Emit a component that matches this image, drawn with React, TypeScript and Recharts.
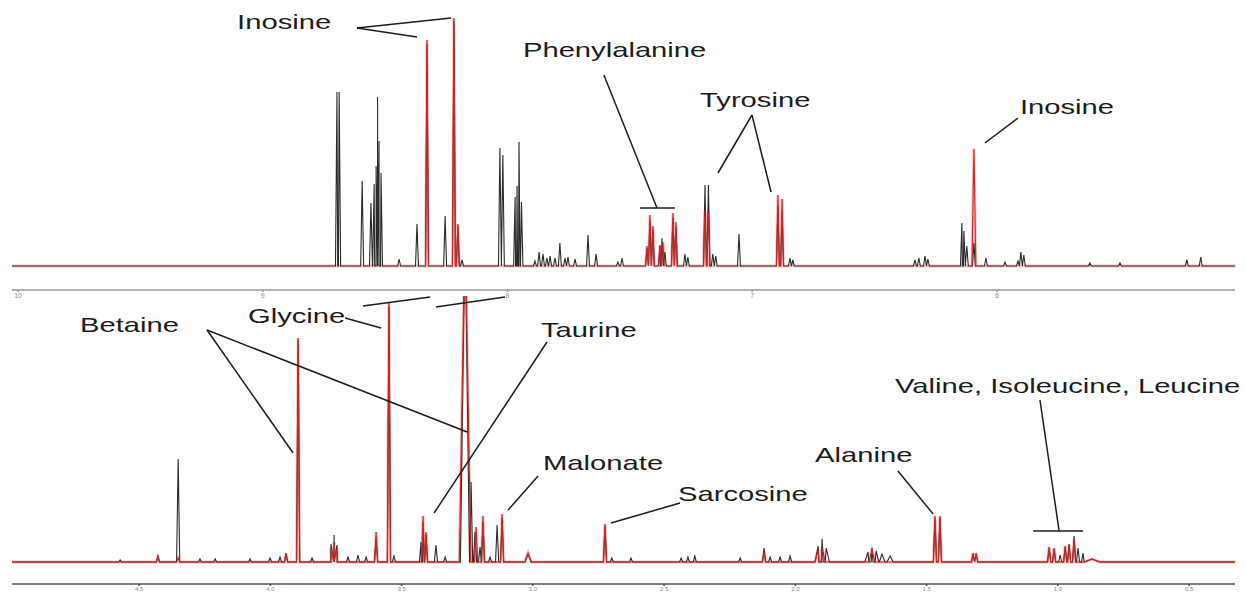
import { LineChart, Line, XAxis, YAxis, ReferenceLine, ReferenceDot } from 'recharts';

// [shift (ppm), height, optional half-width (ppm)]
type Peak = [number, number, number?];
type Note = { text: string; x: number; y: number };
type Leader = [number, number, number, number];

// ---- aromatic region (10 – 5 ppm) ----
const aromaticTicks = [10, 9, 8, 7, 6];

const aromaticSample: Peak[] = [
  [8.697, 174], [8.688, 174], [8.594, 85], [8.558, 63], [8.545, 82], [8.537, 100],
  [8.531, 169], [8.525, 125], [8.517, 93], [8.443, 7], [8.37, 42], [8.329, 222],
  [8.255, 50], [8.219, 245], [8.203, 40], [8.186, 6], [8.031, 118], [8.019, 111],
  [7.969, 69], [7.961, 80], [7.953, 124], [7.943, 64], [7.888, 5], [7.871, 14],
  [7.855, 12], [7.839, 8], [7.826, 10], [7.806, 8], [7.786, 23], [7.765, 8],
  [7.753, 9], [7.724, 7], [7.671, 31], [7.638, 12], [7.549, 4], [7.532, 8],
  [7.43, 18], [7.418, 45], [7.406, 36], [7.377, 21], [7.369, 28], [7.357, 14],
  [7.324, 48], [7.312, 40], [7.275, 12], [7.263, 9], [7.193, 81], [7.179, 81],
  [7.161, 12], [7.149, 10], [7.054, 32], [6.895, 60], [6.878, 55], [6.846, 8],
  [6.834, 6], [6.335, 6], [6.319, 8], [6.294, 10], [6.282, 7], [6.143, 43],
  [6.135, 35], [6.123, 20], [6.094, 23], [6.045, 8], [5.967, 4], [5.914, 5],
  [5.902, 14], [5.89, 11], [5.62, 3], [5.497, 3], [5.224, 6], [5.167, 9],
];

const aromaticReference: Peak[] = [
  [8.329, 226], [8.219, 248], [8.203, 42], [7.43, 20], [7.418, 51], [7.406, 40],
  [7.377, 20], [7.365, 24], [7.324, 53], [7.312, 44], [7.193, 56], [7.179, 54],
  [6.895, 71], [6.878, 67], [6.094, 117, 0.008],
];

const aromaticNotes: Note[] = [
  { text: 'Inosine', x: 9.105, y: 244 },
  { text: 'Phenylalanine', x: 7.937, y: 216 },
  { text: 'Tyrosine', x: 7.213, y: 166 },
  { text: 'Inosine', x: 5.906, y: 159 },
];

const aromaticLeaders: Leader[] = [
  [8.615, 238, 8.37, 229], [8.615, 238, 8.231, 248],
  [7.606, 191, 7.389, 58], [7.459, 58, 7.316, 58],
  [7.001, 151, 7.14, 93], [7.001, 151, 6.923, 74],
  [5.914, 148, 6.049, 123],
];

// ---- aliphatic region (5 – 0.3 ppm) ----
const aliphaticTicks = [4.5, 4.0, 3.5, 3.0, 2.5, 2.0, 1.5, 1.0, 0.5];

const aliphaticSample: Peak[] = [
  [4.572, 2], [4.428, 6], [4.351, 103], [4.268, 3], [4.21, 3], [4.077, 3],
  [4.001, 4], [3.963, 5], [3.94, 9], [3.894, 222], [3.841, 4], [3.769, 18, 0.012],
  [3.757, 27, 0.012], [3.746, 17, 0.012], [3.704, 5], [3.666, 7], [3.635, 5],
  [3.597, 24], [3.548, 255], [3.529, 6], [3.426, 20], [3.418, 40], [3.407, 28],
  [3.369, 17], [3.334, 5], [3.258, 340, 0.018], [3.235, 80], [3.22, 30], [3.201, 15],
  [3.19, 40], [3.163, 5], [3.136, 37], [3.117, 44], [3.018, 8, 0.012], [2.725, 36],
  [2.699, 4], [2.626, 4], [2.435, 4], [2.409, 5], [2.383, 6], [2.21, 4],
  [2.119, 14], [2.096, 5], [2.058, 5], [2.02, 6], [1.913, 16, 0.012],
  [1.898, 23, 0.012], [1.882, 14, 0.012], [1.723, 10, 0.012], [1.708, 14, 0.012],
  [1.692, 11, 0.012], [1.67, 8, 0.012], [1.639, 6, 0.012], [1.468, 44], [1.449, 44],
  [1.323, 8], [1.311, 8], [1.033, 14], [1.014, 13], [0.991, 7], [0.972, 15],
  [0.957, 18], [0.938, 26], [0.923, 14], [0.904, 9], [0.87, 3, 0.03],
];

const aliphaticReference: Peak[] = [
  [4.428, 5], [4.351, 4], [3.94, 8], [3.894, 224], [3.769, 14, 0.012],
  [3.757, 20, 0.012], [3.746, 14, 0.012], [3.597, 30], [3.548, 260], [3.418, 46],
  [3.407, 30], [3.258, 340, 0.022], [3.216, 35], [3.19, 46], [3.117, 48],
  [3.018, 9, 0.012], [2.725, 38], [2.119, 10], [1.913, 12, 0.012], [1.898, 15, 0.012],
  [1.708, 12, 0.012], [1.468, 46], [1.449, 46], [1.323, 9], [1.311, 9],
  [1.033, 15], [1.014, 14], [0.972, 16], [0.957, 17], [0.938, 22], [0.87, 3, 0.03],
];

const aliphaticNotes: Note[] = [
  { text: 'Betaine', x: 4.725, y: 237 },
  { text: 'Glycine', x: 4.085, y: 246 },
  { text: 'Taurine', x: 2.969, y: 232 },
  { text: 'Malonate', x: 2.961, y: 99 },
  { text: 'Sarcosine', x: 2.447, y: 68 },
  { text: 'Alanine', x: 1.925, y: 107 },
  { text: 'Valine, Isoleucine, Leucine', x: 1.62, y: 176 },
];

const aliphaticLeaders: Leader[] = [
  [4.241, 232, 3.913, 109], [4.241, 232, 3.25, 130],
  [3.715, 244, 3.578, 234], [3.647, 256, 3.391, 265], [3.369, 255, 3.106, 265],
  [2.946, 220, 3.376, 49], [2.98, 86, 3.094, 52], [2.439, 59, 2.702, 39],
  [1.609, 91, 1.475, 48], [1.068, 162, 0.995, 31], [1.094, 31, 0.904, 31],
];

const FONT = '"Liberation Sans", Arial, sans-serif';
const HALF_WIDTH = 0.006;

type Pt = { x: number; y: number | null };

// full trace: every resonance is a narrow spike on a flat baseline
function trace(peaks: Peak[], lo: number, hi: number): Pt[] {
  const pts: Pt[] = [{ x: lo, y: 0 }, { x: hi, y: 0 }];
  for (const [p, h, w = HALF_WIDTH] of peaks) {
    pts.push({ x: p - w, y: 0 }, { x: p, y: h }, { x: p + w, y: 0 });
  }
  return pts.sort((a, b) => a.x - b.x);
}

// spikes only, broken between peaks so the baseline stays untouched
function spikes(peaks: Peak[]): Pt[] {
  const pts: Pt[] = [];
  for (const [p, h, w = HALF_WIDTH] of [...peaks].sort((a, b) => a[0] - b[0])) {
    pts.push({ x: p - w, y: 0 }, { x: p, y: h }, { x: p + w, y: 0 }, { x: p + w, y: null });
  }
  return pts;
}

const NoteText = ({ cx, cy, text }: { cx?: number; cy?: number; text: string }) => (
  <text
    transform={`translate(${cx},${cy}) scale(1.46,1)`}
    fontFamily={FONT}
    fontSize={20}
    fill="#1c1c1c"
    dominantBaseline="central"
  >
    {text}
  </text>
);

interface PanelProps {
  sample: Peak[];
  reference: Peak[];
  xDomain: [number, number];
  yDomain: [number, number];
  ticks: number[];
  notes: Note[];
  leaders: Leader[];
  top: number;
  height: number;
  marginTop: number;
  axisHeight: number;
  axisColor: string;
  tickFont: number;
  redBaseline: boolean;
  fmt: (v: number) => string;
}

function Panel(p: PanelProps) {
  const [lo, hi] = p.xDomain;
  const black = trace(p.sample, lo, hi);
  const redFull = trace(p.reference, lo, hi);
  const red = p.redBaseline ? redFull : spikes(p.reference);
  return (
    <div style={{ position: 'absolute', left: 0, top: p.top }}>
      <LineChart width={1247} height={p.height} margin={{ top: p.marginTop, right: 12, bottom: 0, left: 12 }}>
        <XAxis
          type="number"
          dataKey="x"
          domain={p.xDomain}
          reversed
          allowDataOverflow
          ticks={p.ticks}
          tickFormatter={p.fmt}
          height={p.axisHeight}
          stroke={p.axisColor}
          strokeWidth={1.6}
          tickSize={2}
          tickMargin={1}
          tick={{ fontSize: p.tickFont, fill: '#8a8a8a', fontFamily: FONT }}
        />
        <YAxis hide type="number" domain={p.yDomain} allowDataOverflow />
        <Line data={redFull} dataKey="y" type="linear" stroke="#f3a7a7" strokeWidth={3} strokeOpacity={0.7} dot={false} isAnimationActive={false} />
        <Line data={black} dataKey="y" type="linear" stroke="#2a2a2a" strokeWidth={1.1} dot={false} isAnimationActive={false} />
        <Line data={red} dataKey="y" type="linear" stroke="#d02424" strokeWidth={1.1} dot={false} isAnimationActive={false} />
        {p.leaders.map(([x1, y1, x2, y2], i) => (
          <ReferenceLine
            key={`l${i}`}
            segment={[{ x: x1, y: y1 }, { x: x2, y: y2 }]}
            stroke="#1c1c1c"
            strokeWidth={1.5}
            ifOverflow="visible"
          />
        ))}
        {p.notes.map((n, i) => (
          <ReferenceDot
            key={`n${i}`}
            x={n.x}
            y={n.y}
            r={0}
            ifOverflow="visible"
            shape={(s: any) => <NoteText cx={s.cx} cy={s.cy} text={n.text} />}
          />
        ))}
      </LineChart>
    </div>
  );
}

export default function App() {
  return (
    <div style={{ position: 'relative', width: 1247, height: 592, background: '#fff', overflow: 'hidden' }}>
      <style>{'body{margin:0}'}</style>
      <Panel
        sample={aromaticSample}
        reference={aromaticReference}
        xDomain={[5.027, 10.025]}
        yDomain={[-24, 256]}
        ticks={aromaticTicks}
        notes={aromaticNotes}
        leaders={aromaticLeaders}
        top={0}
        height={305}
        marginTop={10}
        axisHeight={15}
        axisColor="#9a9a9a"
        tickFont={7}
        redBaseline={false}
        fmt={(v) => String(v)}
      />
      <Panel
        sample={aliphaticSample}
        reference={aliphaticReference}
        xDomain={[0.325, 4.984]}
        yDomain={[-22, 266]}
        ticks={aliphaticTicks}
        notes={aliphaticNotes}
        leaders={aliphaticLeaders}
        top={290}
        height={302}
        marginTop={6}
        axisHeight={8}
        axisColor="#555"
        tickFont={6}
        redBaseline
        fmt={(v) => v.toFixed(1)}
      />
    </div>
  );
}
